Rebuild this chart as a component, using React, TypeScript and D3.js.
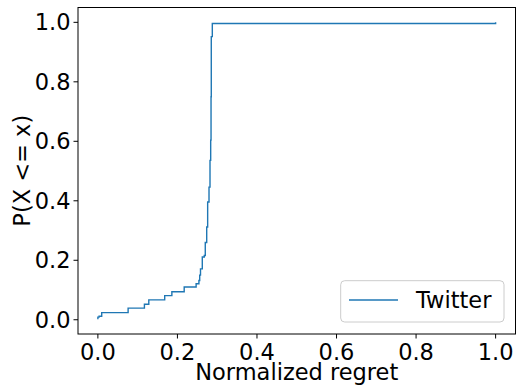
import React from "react";
import * as d3 from "d3";

const regret = [0.0, 0.0, 0.003, 0.0096, 0.076, 0.117, 0.128, 0.168, 0.186, 0.217, 0.247, 0.254, 0.256, 0.258, 0.2625, 0.2675, 0.27, 0.2736, 0.276, 0.2794, 0.2819, 0.2836, 0.2845, 0.2851, 0.2877, 1.0];
const cdf = [0.002, 0.009, 0.012, 0.024, 0.039, 0.052, 0.067, 0.081, 0.094, 0.11, 0.121, 0.132, 0.15, 0.171, 0.211, 0.216, 0.26, 0.312, 0.396, 0.446, 0.536, 0.604, 0.75, 0.952, 0.996, 1.0];
const xTicks = [0, 0.2, 0.4, 0.6, 0.8, 1.0];
const yTicks = [0, 0.2, 0.4, 0.6, 0.8, 1.0];
const seriesName = "Twitter";
const xLabel = "Normalized regret";
const yLabel = "P(X <= x)";

const W = 517, H = 386;
const L = 78, R = 515.5, T = 7.5, B = 334;
const FONT = "DejaVu Sans, sans-serif";

export default function App() {
  const x = d3.scaleLinear().domain([-0.05, 1.05]).range([L, R]);
  const ymin = 0.002, ymax = 1.0, pad = (ymax - ymin) * 0.05;
  const y = d3.scaleLinear().domain([ymin - pad, ymax + pad]).range([B, T]);
  const pts = regret.map((v, i) => [v, cdf[i]] as [number, number]);
  const line = d3.line<[number, number]>().x(d => x(d[0])).y(d => y(d[1])).curve(d3.curveStepAfter);
  const fs = 22.5;
  return (
    <svg width={W} height={H} style={{ position: "absolute", left: 0, top: 0 }} fontFamily={FONT}>
      <rect x={0} y={0} width={W} height={H} fill="#fff" />
      <path d={line(pts) || ""} fill="none" stroke="#1f77b4" strokeWidth={1.4} />
      <rect x={L} y={T} width={R - L} height={B - T} fill="none" stroke="#000" strokeWidth={1} />
      {xTicks.map(t => (
        <g key={"x" + t}>
          <line x1={x(t)} x2={x(t)} y1={B} y2={B + 4.5} stroke="#000" strokeWidth={1} />
          <text x={x(t)} y={360} fontSize={fs} textAnchor="middle" fill="#000">{t.toFixed(1)}</text>
        </g>
      ))}
      {yTicks.map(t => (
        <g key={"y" + t}>
          <line x1={L - 4.5} x2={L} y1={y(t)} y2={y(t)} stroke="#000" strokeWidth={1} />
          <text x={L - 7.5} y={y(t)} dy="0.36em" fontSize={fs} textAnchor="end" fill="#000">{t.toFixed(1)}</text>
        </g>
      ))}
      <text x={(L + R) / 2} y={379.5} fontSize={fs} textAnchor="middle" fill="#000">{xLabel}</text>
      <text transform={`translate(29.5,${(T + B) / 2}) rotate(-90)`} fontSize={fs} textAnchor="middle" fill="#000">{yLabel}</text>
      <g>
        <rect x={340.7} y={280.7} width={163.3} height={41.3} rx={4} fill="#fff" fillOpacity={0.8} stroke="#cccccc" strokeWidth={1} />
        <line x1={349} x2={398} y1={300} y2={300} stroke="#1f77b4" strokeWidth={1.4} />
        <text x={416} y={307.5} fontSize={fs} fill="#000">{seriesName}</text>
      </g>
    </svg>
  );
}
